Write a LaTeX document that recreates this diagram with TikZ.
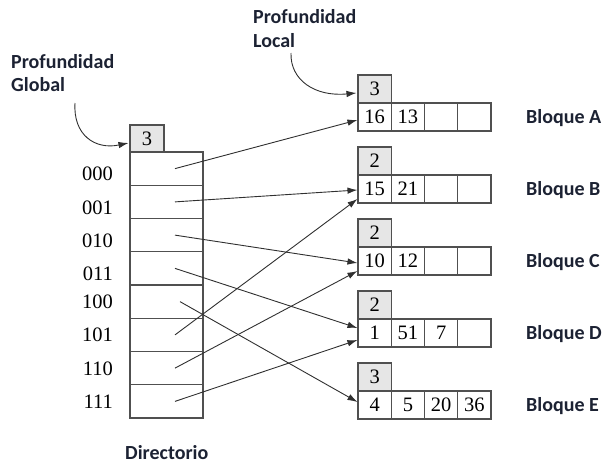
\documentclass[tikz,border=0pt]{standalone}
\usepackage{fontspec}
\setmainfont{Liberation Serif}
\newfontfamily\labelfont{Carlito}
\usetikzlibrary{arrows.meta}

\definecolor{boxline}{HTML}{505050}
\definecolor{depthfill}{HTML}{E6E6E6}
\definecolor{ptrline}{HTML}{303030}
\definecolor{captext}{HTML}{1C2233}

% one hash bucket: depth box above a row of four key slots, plus its label
% #1 name, #2 centre y of the key row, #3 local depth, #4-#7 keys
\newcommand{\hashbucket}[7]{%
  \node[depthbox] (#1d) at (374.625,#2-28) {#3};
  \node[slot] (#1s1) at (374.625,#2) {#4};
  \node[slot] (#1s2) at (407.875,#2) {#5};
  \node[slot] (#1s3) at (441.125,#2) {#6};
  \node[slot] (#1s4) at (474.375,#2) {#7};
  \node[caption, anchor=base west] (#1lab) at (526,#2+6.5) {Bloque #1};
}

\begin{document}
\begin{tikzpicture}[x=1pt,y=-1pt,
  numtxt/.style={font=\fontsize{20.5}{24}\selectfont},
  dircell/.style={draw=boxline, line width=1.1pt, fill=white,
    minimum width=73pt, minimum height=33.25pt, inner sep=0pt},
  depthbox/.style={draw=boxline, line width=1.1pt, fill=depthfill,
    minimum width=33.25pt, minimum height=28pt, inner sep=0pt, numtxt},
  slot/.style={draw=boxline, line width=1.1pt, fill=white,
    minimum width=33.25pt, minimum height=28pt, inner sep=0pt, numtxt},
  caption/.style={font=\labelfont\bfseries\fontsize{20}{24}\selectfont,
    text=captext, inner sep=0pt},
  ptr/.style={draw=ptrline, line width=0.9pt,
    -{Latex[length=10pt,width=6.5pt]}}]

\useasboundingbox (0,0) rectangle (605,464);

% global depth and the directory
\node[depthbox, minimum width=34pt, minimum height=27pt] (gd) at (147,138.5) {3};
\foreach \k in {0,...,7}
  \node[dircell] (d\k) at (166.5,{168.625+33.25*\k}) {};

\foreach \t/\yb [count=\k from 0] in {000/180.7, 001/214, 010/247.3, 011/280.7,
                                       100/308.3, 101/341, 110/375, 111/408.3}
  \node[numtxt, anchor=base east, inner sep=0pt] (bits\k) at (113,\yb) {\t};

\node[caption, anchor=base west] (dirlab) at (125,459) {Directorio};

% buckets
\hashbucket{A}{117}{3}{16}{13}{}{}
\hashbucket{B}{189}{2}{15}{21}{}{}
\hashbucket{C}{261}{2}{10}{12}{}{}
\hashbucket{D}{333}{2}{1}{51}{7}{}
\hashbucket{E}{405}{3}{4}{5}{20}{36}

% annotations
\node[caption, anchor=base west] (glob1) at (11,68) {Profundidad};
\node[caption, anchor=base west] (glob2) at (11,91) {Global};
\node[caption, anchor=base west] (loc1) at (253,23) {Profundidad};
\node[caption, anchor=base west] (loc2) at (253,47) {Local};

\coordinate (gstart) at (75,103);
\coordinate (lstart) at (291,53);
\draw[ptr] (gstart) .. controls (73,135) and (95,150) .. ([xshift=-1pt,yshift=-4.5pt]gd.west);
\draw[ptr] (lstart) .. controls (290,80) and (315,97) .. ([xshift=-1pt,yshift=-4pt]Ad.west);

% directory pointers
\foreach \k/\dx in {0/8.5,1/8.5,2/8.5,3/8.5,4/13.5,5/8.5,6/8.5,7/8.5}
  \coordinate (s\k) at ([xshift=\dx pt]d\k.center);

\draw[ptr] (s0) -- ([yshift=-3pt]As1.west);
\draw[ptr] (s1) -- ([yshift=-1pt]Bs1.west);
\draw[ptr] (s2) -- ([yshift=-2pt]Cs1.west);
\draw[ptr] (s3) -- ([yshift=5pt]Ds1.west);
\draw[ptr] (s4) -- ([yshift=3pt]Es1.west);
\draw[ptr] (s5) -- ([yshift=-10pt]Bs1.west);
\draw[ptr] (s6) -- ([yshift=-10pt]Cs1.west);
\draw[ptr] (s7) -- ([yshift=-7pt]Ds1.west);
\end{tikzpicture}
\end{document}
